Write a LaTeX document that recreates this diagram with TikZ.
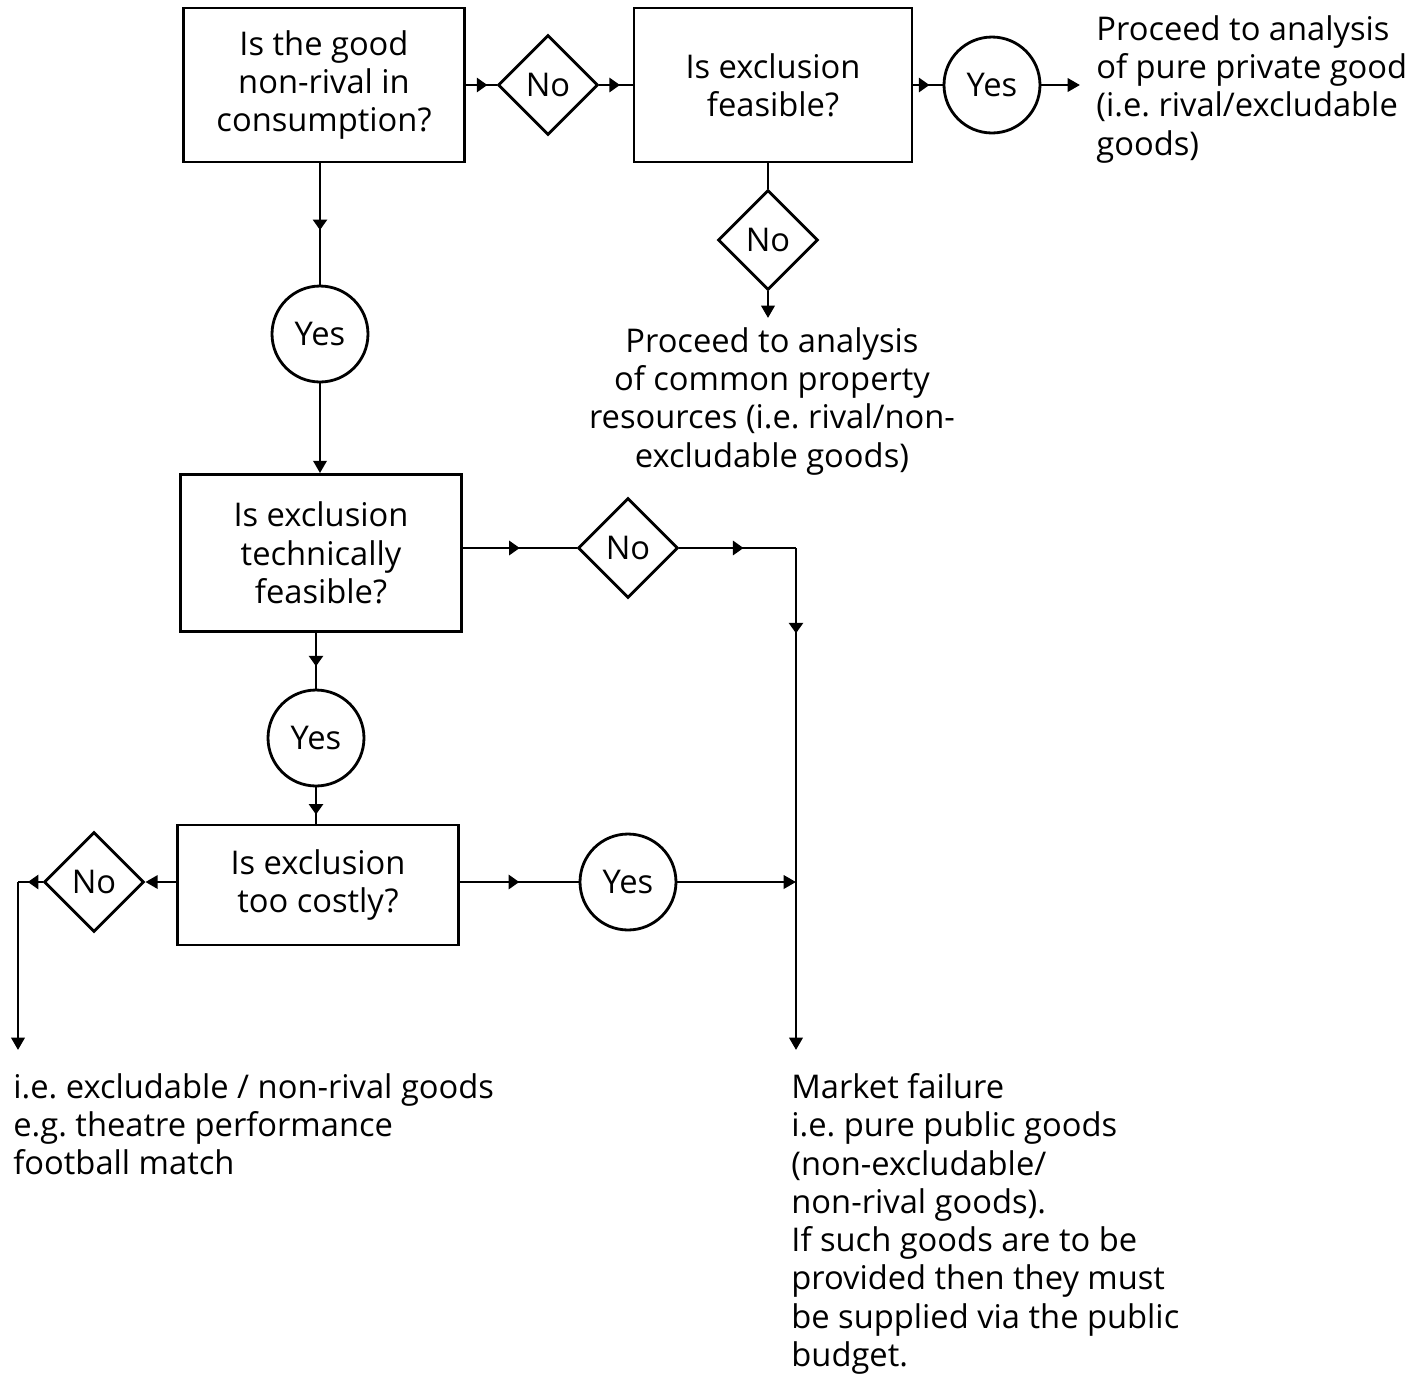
\documentclass[tikz,border=0pt]{standalone}
\usepackage{fontspec}
\setmainfont{Open Sans}
\frenchspacing
\usetikzlibrary{arrows.meta,positioning,shapes.geometric,decorations.markings}

\begin{document}
\begin{tikzpicture}[x=0.02cm, y=-0.02cm, line width=1.6pt,
    every node/.style={font=\fontsize{18.6}{21.8}\selectfont},
    qbox/.style={draw, align=center, minimum width=5.62cm, minimum height=3.08cm, inner sep=2pt},
    yesnode/.style={draw, circle, minimum size=1.92cm, inner sep=0pt},
    nonode/.style={draw, diamond, aspect=1, minimum width=2cm, minimum height=2cm, inner sep=0pt},
    plain/.style={align=left, inner sep=0pt},
    midtip/.style={postaction={decorate}, decoration={markings, mark=at position #1 with {\arrow{Triangle[length=6pt,width=8pt]}}}},
    >={Triangle[length=7pt,width=7.5pt]}]
    \useasboundingbox (0,0) rectangle (1428,1374);

    % first question and the private good branch
    \node[qbox] (box1) at (324,85) {Is the good\\non-rival in\\consumption?};
    \node[nonode] (no1) at (548,85) {No};
    \node[qbox, minimum width=5.56cm] (box2) at (773,85) {Is exclusion\\feasible?};
    \node[yesnode] (yes1) at (992,85) {Yes};
    \node[plain, anchor=north west] (privtxt) at (1095,14) {Proceed to analysis\\of pure private good\\(i.e. rival/excludable\\goods)};
    \node[nonode] (no2) at (768,240) {No};
    \node[plain, align=center, anchor=north] (commtxt) at (772,326) {Proceed to analysis\\of common property\\resources (i.e. rival/non-\\excludable goods)};

    % public good branch
    \node[yesnode] (yes2) at (320,334) {Yes};
    \node[qbox, minimum height=3.14cm] (box3) at (321,553) {Is exclusion\\technically\\feasible?};
    \node[nonode] (no3) at (628,548) {No};
    \node[yesnode] (yes3) at (316,738) {Yes};
    \node[qbox, minimum height=2.4cm] (box4) at (318,885) {Is exclusion\\too costly?};
    \node[yesnode] (yes4) at (628,882) {Yes};
    \node[nonode] (no4) at (94,882) {No};
    \node[plain, anchor=north west] (clubtxt) at (12,1072) {i.e. excludable / non-rival goods\\e.g. theatre performance\\football match};
    \node[plain, anchor=north west] (failtxt) at (790,1072) {Market failure\\i.e. pure public goods\\(non-excludable/\\non-rival goods).\\If such goods are to be\\provided then they must\\be supplied via the public\\budget.};

    \coordinate (privend) at (1080,85);
    \coordinate (commend) at (768,318);
    \coordinate (mfcorner) at (796,548);
    \coordinate (mfend) at (796,1050);
    \coordinate (lcorner) at (18,882);
    \coordinate (lend) at (18,1050);

    \draw[midtip=0.7] (box1.east |- no1) -- (no1.west);
    \draw[midtip=0.62] (no1.east) -- (box2.west);
    \draw[midtip=0.55] (box2.east) -- (yes1.west);
    \draw[->] (yes1.east) -- (privend);
    \draw (box2.south -| no2) -- (no2.north);
    \draw[->] (no2.south) -- (commend);

    \draw[midtip=0.55] (box1.south -| yes2) -- (yes2.north);
    \draw[->] (yes2.south) -- (box3.north -| yes2);
    \draw[midtip=0.5] (box3.east |- no3) -- (no3.west);
    \draw[midtip=0.55] (no3.east) -- (mfcorner);
    \draw[midtip=0.17, ->] (mfcorner) -- (mfend);
    \draw[midtip=0.6] (box3.south -| yes3) -- (yes3.north);
    \draw[midtip=0.75] (yes3.south) -- (box4.north -| yes3);
    \draw[midtip=0.5] (box4.east |- yes4) -- (yes4.west);
    \draw[->] (yes4.east) -- (yes4.east -| mfend);
    \draw[->] (box4.west |- no4) -- (no4.east);
    \draw[midtip=0.6] (no4.west) -- (lcorner);
    \draw[->] (lcorner) -- (lend);
\end{tikzpicture}
\end{document}
